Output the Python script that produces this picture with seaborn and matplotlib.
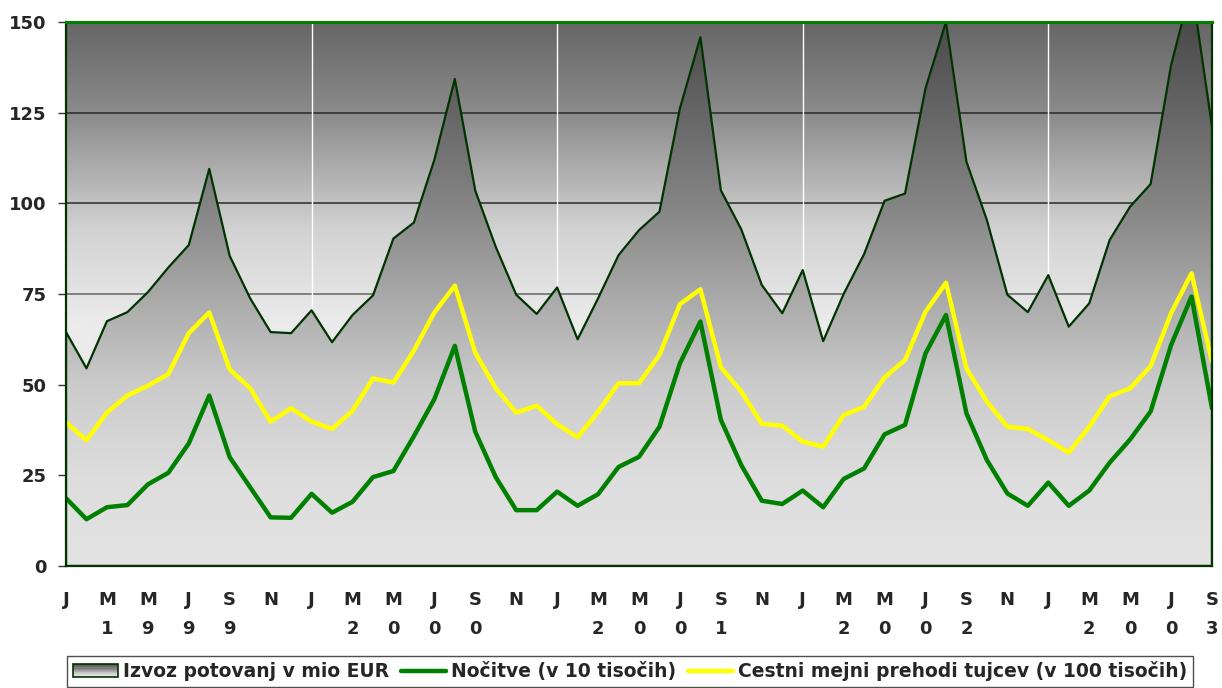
import numpy as np
import pandas as pd
import matplotlib
matplotlib.use("Agg")
import matplotlib.pyplot as plt
import seaborn as sns
from matplotlib.colors import LinearSegmentedColormap
from matplotlib.patches import Rectangle
from matplotlib.legend_handler import HandlerBase

# ---------------- data ----------------
years = ["1999", "2000", "2001", "2002", "2003"]
month_letters = ["J", "M", "M", "J", "S", "N"]  # every second month

izvoz = [64.5, 54.5, 67.5, 70.0, 75.5, 82.3, 88.5, 109.5, 85.5, 73.8, 64.5, 64.2,
         70.5, 61.7, 69.2, 74.6, 90.3, 94.7, 112.0, 134.3, 103.5, 88.0, 74.8, 69.5,
         76.8, 62.5, 73.8, 85.7, 92.6, 97.7, 126.2, 145.8, 103.6, 92.8, 77.5, 69.7,
         81.6, 62.0, 75.0, 86.0, 100.7, 102.7, 131.7, 150.0, 111.5, 95.4, 74.8, 70.0,
         80.2, 66.0, 72.4, 89.9, 99.1, 105.3, 138.1, 160.0, 121.2]
nocitve = [18.7, 12.9, 16.2, 16.8, 22.5, 25.7, 33.8, 47.0, 30.0, 21.7, 13.4, 13.3,
           19.9, 14.7, 17.7, 24.5, 26.2, 35.8, 46.0, 60.7, 37.0, 24.5, 15.4, 15.4,
           20.5, 16.6, 19.8, 27.3, 30.1, 38.4, 55.9, 67.4, 40.3, 27.8, 18.0, 17.1,
           20.8, 16.2, 24.0, 26.9, 36.3, 38.9, 58.6, 69.2, 42.1, 29.2, 20.0, 16.6,
           23.0, 16.6, 20.8, 28.5, 34.9, 42.6, 60.9, 74.3, 43.5]
cestni = [39.6, 34.7, 42.3, 47.0, 49.7, 52.9, 64.2, 69.9, 54.2, 49.0, 39.8, 43.5,
          39.8, 37.8, 42.8, 51.7, 50.6, 59.4, 69.9, 77.3, 58.8, 49.0, 42.3, 44.2,
          39.1, 35.5, 42.5, 50.4, 50.4, 58.2, 72.2, 76.3, 54.8, 48.1, 39.2, 38.7,
          34.3, 32.9, 41.6, 43.9, 52.0, 56.8, 70.1, 78.1, 54.5, 45.3, 38.4, 37.8,
          34.7, 31.3, 38.4, 46.8, 49.0, 55.1, 69.7, 80.7, 56.3]
y_ticks = [0, 25, 50, 75, 100, 125, 150]
series_names = ["Izvoz potovanj v mio EUR", "Nočitve (v 10 tisočih)",
                "Cestni mejni prehodi tujcev (v 100 tisočih)"]

n = len(izvoz)
df = pd.DataFrame({"t": np.arange(n), "izvoz": izvoz, "nocitve": nocitve, "cestni": cestni})

# ---------------- style ----------------
sns.set_style("white")
plt.rcParams["font.family"] = ["DejaVu Sans"]
plt.rcParams["font.weight"] = "bold"
FS = 13
FS_LEG = 13.5

fig = plt.figure(figsize=(12.22, 6.88), dpi=100)
ax = fig.add_axes([66 / 1222, 122 / 688, 1146 / 1222, 544 / 688])
ax.set_xlim(0, n - 1)
ax.set_ylim(0, 150)

# background gradient
bg_cmap = LinearSegmentedColormap.from_list(
    "bg", [(0.0, "#ebebeb"), (0.45, "#ebebeb"), (0.62, "#d2d2d2"),
           (0.83, "#8c8c8c"), (1.0, "#666666")])
grad = np.linspace(0, 1, 256).reshape(-1, 1)
ax.imshow(grad, cmap=bg_cmap, aspect="auto", origin="lower",
          extent=[0, n - 1, 0, 150], zorder=0)

# gridlines
for yv in y_ticks[1:-1]:
    ax.axhline(yv, color="#2a2a2a" if yv != 75 else "#666666", lw=1.1, zorder=1)
jan_pos = [12 * i for i in range(len(years))]
for xv in jan_pos[1:]:
    ax.axvline(xv, color="white", lw=1.0, zorder=1)

# area with gradient fill
poly = ax.fill_between(df["t"], 0, df["izvoz"], facecolor="none",
                       edgecolor="#003300", lw=1.6, zorder=3)
area_cmap = LinearSegmentedColormap.from_list(
    "area", [(0.0, "#e3e3e3"), (25 / 160, "#dddddd"), (50 / 160, "#cbcbcb"),
             (75 / 160, "#a8a8a8"), (100 / 160, "#848484"), (125 / 160, "#666666"),
             (150 / 160, "#4a4a4a"), (1.0, "#444444")])
im = ax.imshow(grad, cmap=area_cmap, aspect="auto", origin="lower",
               extent=[0, n - 1, 0, 160], zorder=2)
im.set_clip_path(poly.get_paths()[0], transform=ax.transData)
ax.set_ylim(0, 150)
ax.set_xlim(0, n - 1)

# lines
sns.lineplot(data=df, x="t", y="nocitve", ax=ax, color="#008000", lw=3.2, zorder=5)
sns.lineplot(data=df, x="t", y="cestni", ax=ax, color="#ffff00", lw=3.2, zorder=4)
ax.set_xlabel("")
ax.set_ylabel("")

# spines
for s in ["left", "bottom", "right"]:
    ax.spines[s].set_color("#003300")
    ax.spines[s].set_linewidth(1.6)
    ax.spines[s].set_zorder(6)
ax.spines["top"].set_color("#008000")
ax.spines["top"].set_linewidth(2.2)
ax.spines["top"].set_zorder(6)

# y ticks
ax.set_yticks(y_ticks)
ax.set_yticklabels([str(v) for v in y_ticks], fontsize=FS, fontweight="bold")
ax.tick_params(axis="y", direction="out", length=6, width=1, color="#333333",
               pad=8, left=True)

# x ticks: labels every two months, marks at each January
label_pos = []
labels = []
for yi, yr in enumerate(years):
    digits = ["", yr[0], yr[1], yr[2], yr[3], ""]
    for k, letter in enumerate(month_letters):
        p = 12 * yi + 2 * k
        if p <= n - 1:
            label_pos.append(p)
            labels.append(letter + "\n" + digits[k])
ax.set_xticks(label_pos)
ax.set_xticklabels(labels, fontsize=FS, fontweight="bold", linespacing=1.75)
ax.tick_params(axis="x", which="major", length=0, pad=18)
ax.set_xticks(jan_pos, minor=True)
ax.tick_params(axis="x", which="minor", direction="out", length=7, width=1,
               color="#333333", bottom=True)


# legend
class GradientPatchHandler(HandlerBase):
    def create_artists(self, legend, orig_handle, xdescent, ydescent,
                       width, height, fontsize, trans):
        artists = []
        nb = 12
        cols = plt.get_cmap(area_cmap)(np.linspace(0.05, 0.9, nb))
        for i in range(nb):
            r = Rectangle((-xdescent, -ydescent + height * i / nb), width,
                          height / nb, facecolor=cols[i], edgecolor="none",
                          transform=trans)
            artists.append(r)
        frame = Rectangle((-xdescent, -ydescent), width, height,
                          facecolor="none", edgecolor="#003300", lw=1.2,
                          transform=trans)
        artists.append(frame)
        return artists


area_handle = Rectangle((0, 0), 1, 1)
line_g = plt.Line2D([], [], color="#008000", lw=3.2)
line_y = plt.Line2D([], [], color="#ffff00", lw=3.2)
leg = fig.legend([area_handle, line_g, line_y], series_names,
                 handler_map={Rectangle: GradientPatchHandler()},
                 loc="lower center", bbox_to_anchor=(630 / 1222, -0.012),
                 ncol=3, frameon=True, fancybox=False, edgecolor="#222222",
                 prop={"weight": "bold", "size": FS_LEG}, handlelength=2.4,
                 handletextpad=0.3, columnspacing=0.6, borderpad=0.3)
leg.get_frame().set_linewidth(1.0)

fig.savefig("out.png", dpi=100)
